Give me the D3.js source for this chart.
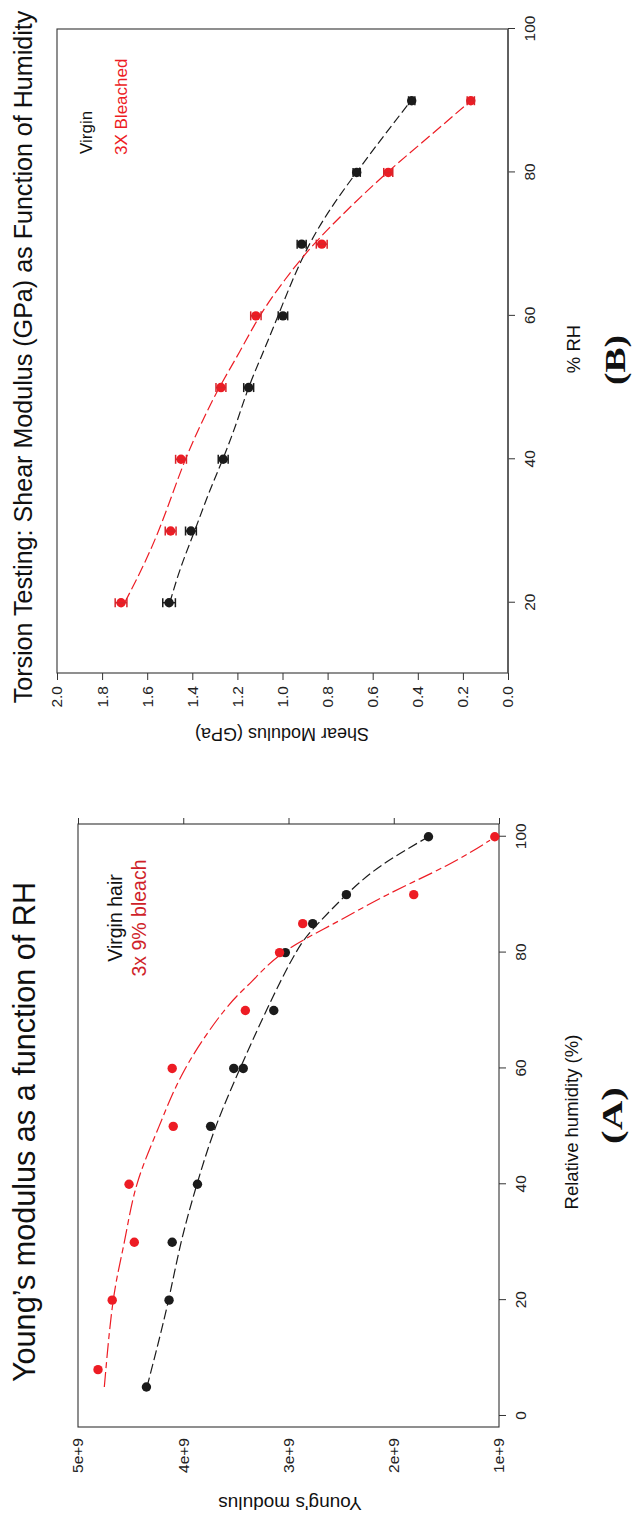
<!DOCTYPE html>
<html>
<head>
<meta charset="utf-8">
<script src="https://cdn.jsdelivr.net/npm/d3@7"></script>
<style>
  body { margin: 0; background: #fff; }
  svg { display: block; font-family: "Liberation Sans", Arial, sans-serif; }
</style>
</head>
<body>
<svg id="chart" width="636" height="1516"></svg>
<script>
// panel A: Young's modulus vs RH
const rhA_virgin = [5, 20, 30, 40, 50, 60, 60, 70, 80, 85, 90, 100]
const eA_virgin = [4.35e9, 4.135e9, 4.105e9, 3.865e9, 3.74e9, 3.52e9, 3.43e9, 3.14e9, 3.03e9, 2.77e9, 2.45e9, 1.67e9]
const rhA_bleach = [8, 20, 30, 40, 50, 60, 70, 80, 85, 90, 100]
const eA_bleach = [4.81e9, 4.675e9, 4.465e9, 4.515e9, 4.095e9, 4.105e9, 3.41e9, 3.085e9, 2.865e9, 1.81e9, 1.04e9]
// fitted curves
const fitA_virgin_rh = [5, 11, 20, 30, 40, 50, 60, 70, 80, 85, 90, 95, 100]
const fitA_virgin_e = [4.345e9, 4.26e9, 4.14e9, 4.02e9, 3.87e9, 3.69e9, 3.46e9, 3.21e9, 2.93e9, 2.72e9, 2.45e9, 2.12e9, 1.67e9]
const fitA_bleach_rh = [5, 20, 30, 40, 50, 60, 70, 75, 80, 85, 90, 95, 99.4]
const fitA_bleach_e = [4.75e9, 4.665e9, 4.56e9, 4.44e9, 4.23e9, 3.98e9, 3.61e9, 3.35e9, 3.05e9, 2.57e9, 2.06e9, 1.50e9, 1.085e9]
const ticksA_x = [0, 20, 40, 60, 80, 100]
const ticksA_y = [1e9, 2e9, 3e9, 4e9, 5e9]

// panel B: shear modulus vs RH
const rhB = [20, 30, 40, 50, 60, 70, 80, 90]
const gB_virgin = [1.503, 1.406, 1.263, 1.15, 0.998, 0.915, 0.671, 0.427]
const errB_virgin = [0.028, 0.024, 0.022, 0.022, 0.021, 0.02, 0.016, 0.014]
const gB_bleach = [1.716, 1.496, 1.45, 1.273, 1.118, 0.826, 0.531, 0.165]
const errB_bleach = [0.026, 0.024, 0.024, 0.022, 0.023, 0.024, 0.02, 0.016]
const fitB_rh = [20, 25, 30, 35, 40, 45, 50, 55, 60, 65, 70, 75, 80, 85, 90]
const fitB_virgin = [1.50, 1.45, 1.39, 1.33, 1.265, 1.205, 1.15, 1.085, 1.02, 0.955, 0.88, 0.785, 0.672, 0.553, 0.43]
const fitB_bleach = [1.70, 1.62, 1.55, 1.49, 1.43, 1.36, 1.28, 1.19, 1.10, 0.99, 0.86, 0.705, 0.535, 0.35, 0.165]
const ticksB_x = [20, 40, 60, 80, 100]
const ticksB_y = [0, 0.2, 0.4, 0.6, 0.8, 1.0, 1.2, 1.4, 1.6, 1.8, 2.0]

const BLACK = '#1b1b1b'
const RED = '#ed1c24'
const DARKRED = '#cf1f2a'

const svg = d3.select('#chart')
// the figure is drawn upright (1516 wide, 636 tall) then turned a quarter turn
const root = svg.append('g').attr('transform', 'translate(0,1516) rotate(-90)')

function styleAxis (g, size) {
  g.select('.domain').remove()
  g.selectAll('.tick line').attr('stroke', '#333').attr('stroke-width', 1)
  g.selectAll('.tick text').attr('font-size', size).attr('fill', '#222')
    .attr('font-family', '"Liberation Sans", Arial, sans-serif')
}

function dots (g, xs, ys, x, y, color) {
  g.selectAll(null).data(xs).enter().append('circle')
    .attr('cx', d => x(d))
    .attr('cy', (d, i) => y(ys[i]))
    .attr('r', 4.7)
    .attr('fill', color)
}

function curve (g, xs, ys, x, y, color, dash) {
  const line = d3.line()
    .x(d => x(d[0]))
    .y(d => y(d[1]))
    .curve(d3.curveNatural)
  g.append('path')
    .datum(xs.map((d, i) => [d, ys[i]]))
    .attr('d', line)
    .attr('fill', 'none')
    .attr('stroke', color)
    .attr('stroke-width', 1.2)
    .attr('stroke-dasharray', dash)
}

// ---------- panel A ----------
const xA = d3.scaleLinear().domain([-1.9, 102.2]).range([89, 692])
const yA = d3.scaleLinear().domain([1e9, 5e9]).range([499, 78])
const gA = root.append('g')

gA.append('text')
  .attr('x', 384).attr('y', 35)
  .attr('text-anchor', 'middle')
  .attr('font-size', 30.6).attr('fill', '#111')
  .text('Young’s modulus as a function of RH')

gA.append('g').attr('transform', 'translate(0,499)')
  .call(d3.axisBottom(xA).tickValues(ticksA_x).tickSize(7).tickPadding(9).tickFormat(d3.format('d')))
  .call(g => styleAxis(g, 15.5))
gA.append('g').attr('transform', 'translate(89,0)')
  .call(d3.axisLeft(yA).tickValues(ticksA_y).tickSize(0).tickPadding(11).tickFormat(d3.format('.0e')))
  .call(g => styleAxis(g, 15.5))
gA.append('g').attr('transform', 'translate(692,0)')
  .call(d3.axisRight(yA).tickValues(ticksA_y).tickSize(6).tickFormat(''))
  .call(g => styleAxis(g, 15.5))

gA.append('rect')
  .attr('x', 89).attr('y', 78).attr('width', 603).attr('height', 421)
  .attr('fill', 'none').attr('stroke', '#333').attr('stroke-width', 1.1)

gA.append('text')
  .attr('x', 394).attr('y', 578)
  .attr('text-anchor', 'middle').attr('font-size', 18.5).attr('fill', '#111')
  .text('Relative humidity (%)')
gA.append('text')
  .attr('transform', 'translate(19,290) rotate(-90)')
  .attr('text-anchor', 'middle').attr('font-size', 19).attr('fill', '#111')
  .text("Young's modulus")
gA.append('text')
  .attr('x', 372).attr('y', 622)
  .attr('textLength', 57).attr('lengthAdjust', 'spacingAndGlyphs')
  .attr('font-family', '"Liberation Serif", "Times New Roman", serif')
  .attr('font-weight', 'bold').attr('font-size', 30).attr('fill', '#111')
  .text('(A)')

gA.append('text')
  .attr('x', 598).attr('y', 122)
  .attr('text-anchor', 'middle').attr('font-size', 19.5).attr('fill', '#111')
  .text('Virgin hair')
gA.append('text')
  .attr('x', 598).attr('y', 146)
  .attr('text-anchor', 'middle').attr('font-size', 19.5).attr('fill', DARKRED)
  .text('3x 9% bleach')

curve(gA, fitA_virgin_rh, fitA_virgin_e, xA, yA, BLACK, '10,4')
curve(gA, fitA_bleach_rh, fitA_bleach_e, xA, yA, RED, '15,4,6,4')
dots(gA, rhA_virgin, eA_virgin, xA, yA, BLACK)
dots(gA, rhA_bleach, eA_bleach, xA, yA, RED)

// ---------- panel B ----------
const xB = d3.scaleLinear().domain([10.2, 100]).range([843, 1487])
const yB = d3.scaleLinear().domain([0, 2]).range([508, 57])
const gB = root.append('g')

gB.append('text')
  .attr('x', 1159).attr('y', 32)
  .attr('text-anchor', 'middle')
  .attr('font-size', 25.1).attr('fill', '#111')
  .text('Torsion Testing: Shear Modulus (GPa) as Function of Humidity')

gB.append('rect')
  .attr('x', 843).attr('y', 57).attr('width', 644).attr('height', 451)
  .attr('fill', 'none').attr('stroke', '#333').attr('stroke-width', 1.1)

gB.append('g').attr('transform', 'translate(0,508)')
  .call(d3.axisBottom(xB).tickValues(ticksB_x).tickSize(7).tickPadding(9).tickFormat(d3.format('d')))
  .call(g => styleAxis(g, 15.5))
gB.append('g').attr('transform', 'translate(843,0)')
  .call(d3.axisLeft(yB).tickValues(ticksB_y).tickSize(7).tickPadding(6).tickFormat(d3.format('.1f')))
  .call(g => styleAxis(g, 15.5))
gB.append('line')
  .attr('x1', 843).attr('x2', 1487).attr('y1', 508).attr('y2', 508)
  .attr('stroke', '#555').attr('stroke-width', 1.6)

gB.append('text')
  .attr('x', 1167).attr('y', 580)
  .attr('text-anchor', 'middle').attr('font-size', 18.5).attr('fill', '#111')
  .text('% RH')
gB.append('text')
  .attr('transform', 'translate(788,282) rotate(-90)')
  .attr('text-anchor', 'middle').attr('font-size', 18).attr('fill', '#111')
  .text('Shear Modulus (GPa)')
gB.append('text')
  .attr('x', 1131).attr('y', 625)
  .attr('textLength', 50).attr('lengthAdjust', 'spacingAndGlyphs')
  .attr('font-family', '"Liberation Serif", "Times New Roman", serif')
  .attr('font-weight', 'bold').attr('font-size', 30).attr('fill', '#111')
  .text('(B)')

gB.append('text')
  .attr('x', 1362).attr('y', 92)
  .attr('font-size', 17).attr('fill', '#111')
  .text('Virgin')
gB.append('text')
  .attr('x', 1361).attr('y', 127)
  .attr('font-size', 17).attr('fill', RED)
  .text('3X Bleached')

curve(gB, fitB_rh, fitB_virgin, xB, yB, BLACK, '9,4')
curve(gB, fitB_rh, fitB_bleach, xB, yB, RED, '11,4')
dots(gB, rhB, gB_virgin, xB, yB, BLACK)
dots(gB, rhB, gB_bleach, xB, yB, RED)

function errorBars (g, xs, ys, es, color) {
  const eb = g.append('g').attr('stroke', color).attr('stroke-width', 1.5)
  xs.forEach((d, i) => {
    const cx = xB(d)
    const lo = yB(ys[i] - es[i])
    const hi = yB(ys[i] + es[i])
    eb.append('line').attr('x1', cx).attr('x2', cx).attr('y1', lo).attr('y2', hi)
    eb.append('line').attr('x1', cx - 4.5).attr('x2', cx + 4.5).attr('y1', lo).attr('y2', lo)
    eb.append('line').attr('x1', cx - 4.5).attr('x2', cx + 4.5).attr('y1', hi).attr('y2', hi)
  })
}
errorBars(gB, rhB, gB_virgin, errB_virgin, BLACK)
errorBars(gB, rhB, gB_bleach, errB_bleach, '#d8232a')
</script>
</body>
</html>
